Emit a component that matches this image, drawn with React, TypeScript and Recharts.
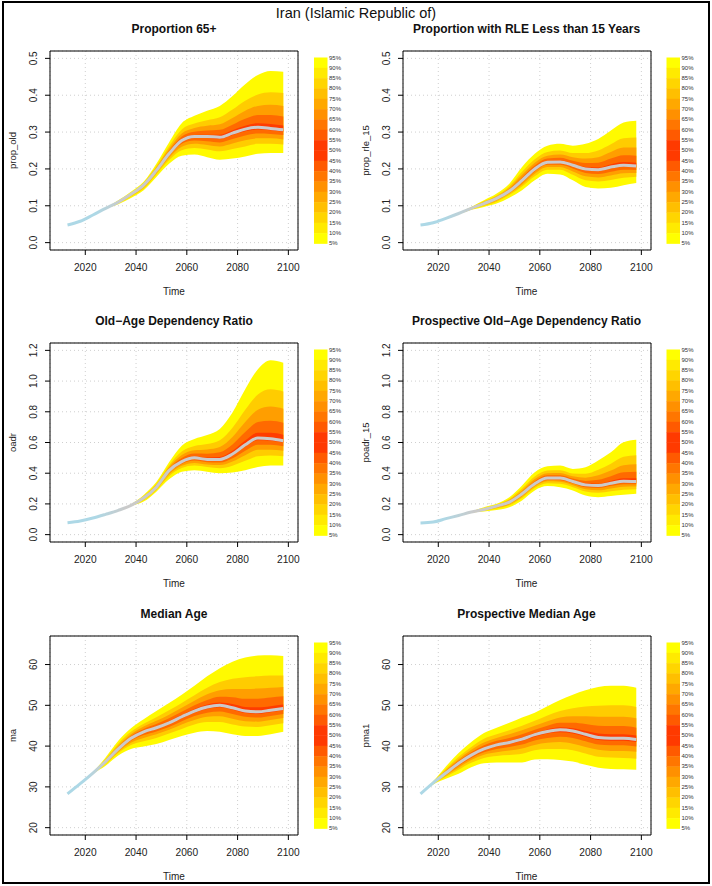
import React from 'react';
import { ComposedChart, Area, Line, XAxis, YAxis, CartesianGrid, ReferenceArea } from 'recharts';

const FONT = '"Liberation Sans", Arial, Helvetica, sans-serif';

const MAIN_TITLE = 'Iran (Islamic Republic of)';
const years = [2013, 2018, 2023, 2028, 2033, 2038, 2043, 2048, 2053, 2058, 2063, 2068, 2073, 2078, 2083, 2088, 2093, 2098];
const X_TICKS = [2020, 2040, 2060, 2080, 2100];
const X_DOMAIN: [number, number] = [2006.1, 2103.8];
const LEGEND_LABELS = ['95%', '90%', '85%', '80%', '75%', '70%', '65%', '60%', '55%', '50%', '45%', '40%', '35%', '30%', '25%', '20%', '15%', '10%', '5%'];
const LEGEND_COLORS = ['#FFFF00', '#FFEA00', '#FFD500', '#FFBF00', '#FFA800', '#FF9000', '#FF7600', '#FF5A00', '#FF3A00'];
const BAND_COLORS = ['#FFFA00', '#FFCC00', '#FF9E00', '#FF6A00', '#FF3C00'];

// Panel 1: Proportion 65+
const old_q05 = [0.048, 0.058, 0.075, 0.092, 0.104, 0.121, 0.142, 0.178, 0.214, 0.236, 0.239, 0.232, 0.225, 0.228, 0.234, 0.241, 0.243, 0.243];
const old_q15 = [0.048, 0.058, 0.075, 0.092, 0.106, 0.125, 0.147, 0.185, 0.224, 0.251, 0.257, 0.253, 0.248, 0.254, 0.261, 0.268, 0.268, 0.266];
const old_q25 = [0.048, 0.058, 0.075, 0.093, 0.108, 0.127, 0.150, 0.189, 0.230, 0.260, 0.268, 0.265, 0.261, 0.269, 0.278, 0.283, 0.283, 0.280];
const old_q35 = [0.048, 0.058, 0.075, 0.093, 0.109, 0.129, 0.153, 0.192, 0.235, 0.268, 0.277, 0.275, 0.272, 0.281, 0.291, 0.296, 0.295, 0.292];
const old_q45 = [0.048, 0.058, 0.075, 0.093, 0.110, 0.130, 0.155, 0.195, 0.239, 0.274, 0.284, 0.284, 0.281, 0.292, 0.302, 0.307, 0.305, 0.301];
const old_q50 = [0.048, 0.058, 0.075, 0.093, 0.110, 0.131, 0.156, 0.196, 0.241, 0.277, 0.288, 0.288, 0.286, 0.297, 0.308, 0.313, 0.310, 0.306];
const old_q55 = [0.048, 0.058, 0.075, 0.093, 0.110, 0.132, 0.157, 0.197, 0.243, 0.281, 0.292, 0.293, 0.293, 0.305, 0.317, 0.324, 0.322, 0.318];
const old_q65 = [0.048, 0.058, 0.075, 0.093, 0.111, 0.133, 0.158, 0.200, 0.248, 0.288, 0.301, 0.304, 0.306, 0.320, 0.336, 0.346, 0.346, 0.342];
const old_q75 = [0.048, 0.058, 0.075, 0.093, 0.112, 0.134, 0.160, 0.203, 0.254, 0.296, 0.311, 0.317, 0.321, 0.338, 0.358, 0.371, 0.374, 0.371];
const old_q85 = [0.048, 0.058, 0.075, 0.094, 0.113, 0.135, 0.162, 0.207, 0.261, 0.307, 0.323, 0.332, 0.340, 0.361, 0.385, 0.402, 0.408, 0.406];
const old_q95 = [0.048, 0.058, 0.075, 0.094, 0.115, 0.138, 0.165, 0.214, 0.272, 0.324, 0.344, 0.358, 0.371, 0.398, 0.430, 0.455, 0.466, 0.464];

// Panel 2: Proportion with RLE less than 15 years
const rle_q05 = [0.048, 0.054, 0.066, 0.077, 0.089, 0.097, 0.106, 0.122, 0.142, 0.169, 0.187, 0.185, 0.169, 0.151, 0.147, 0.149, 0.156, 0.162];
const rle_q15 = [0.048, 0.054, 0.066, 0.078, 0.090, 0.100, 0.111, 0.129, 0.152, 0.180, 0.198, 0.198, 0.184, 0.169, 0.166, 0.170, 0.176, 0.179];
const rle_q25 = [0.048, 0.054, 0.066, 0.078, 0.091, 0.102, 0.114, 0.133, 0.158, 0.187, 0.205, 0.205, 0.193, 0.180, 0.177, 0.182, 0.188, 0.189];
const rle_q35 = [0.048, 0.054, 0.066, 0.079, 0.092, 0.104, 0.117, 0.136, 0.163, 0.193, 0.211, 0.211, 0.201, 0.189, 0.186, 0.192, 0.198, 0.197];
const rle_q45 = [0.048, 0.054, 0.066, 0.079, 0.093, 0.105, 0.119, 0.139, 0.167, 0.198, 0.216, 0.216, 0.207, 0.196, 0.194, 0.201, 0.206, 0.204];
const rle_q50 = [0.048, 0.054, 0.066, 0.079, 0.093, 0.106, 0.120, 0.140, 0.169, 0.200, 0.218, 0.219, 0.210, 0.200, 0.198, 0.205, 0.210, 0.208];
const rle_q55 = [0.048, 0.054, 0.066, 0.079, 0.093, 0.107, 0.121, 0.142, 0.172, 0.203, 0.221, 0.223, 0.214, 0.205, 0.204, 0.213, 0.219, 0.217];
const rle_q65 = [0.048, 0.054, 0.066, 0.079, 0.094, 0.108, 0.123, 0.145, 0.177, 0.209, 0.228, 0.230, 0.222, 0.216, 0.217, 0.228, 0.237, 0.236];
const rle_q75 = [0.048, 0.054, 0.066, 0.080, 0.095, 0.110, 0.125, 0.148, 0.184, 0.217, 0.236, 0.239, 0.232, 0.228, 0.232, 0.246, 0.258, 0.258];
const rle_q85 = [0.048, 0.054, 0.066, 0.080, 0.096, 0.112, 0.128, 0.153, 0.192, 0.226, 0.246, 0.250, 0.243, 0.243, 0.250, 0.267, 0.283, 0.285];
const rle_q95 = [0.048, 0.054, 0.066, 0.081, 0.097, 0.115, 0.133, 0.160, 0.205, 0.241, 0.263, 0.268, 0.263, 0.268, 0.281, 0.304, 0.326, 0.331];

// Panel 3: Old-Age Dependency Ratio
const oadr_q05 = [0.078, 0.089, 0.108, 0.132, 0.158, 0.186, 0.215, 0.280, 0.360, 0.410, 0.420, 0.410, 0.400, 0.405, 0.420, 0.440, 0.450, 0.450];
const oadr_q15 = [0.078, 0.089, 0.108, 0.132, 0.158, 0.187, 0.224, 0.291, 0.381, 0.434, 0.450, 0.440, 0.433, 0.449, 0.481, 0.510, 0.515, 0.510];
const oadr_q25 = [0.078, 0.089, 0.108, 0.132, 0.158, 0.188, 0.229, 0.297, 0.394, 0.448, 0.467, 0.457, 0.453, 0.476, 0.517, 0.552, 0.553, 0.546];
const oadr_q35 = [0.078, 0.089, 0.108, 0.132, 0.158, 0.189, 0.233, 0.302, 0.404, 0.460, 0.482, 0.472, 0.469, 0.497, 0.547, 0.586, 0.585, 0.575];
const oadr_q45 = [0.078, 0.089, 0.108, 0.132, 0.158, 0.190, 0.236, 0.307, 0.413, 0.470, 0.494, 0.484, 0.483, 0.516, 0.572, 0.615, 0.612, 0.600];
const oadr_q50 = [0.078, 0.089, 0.108, 0.132, 0.158, 0.190, 0.238, 0.309, 0.417, 0.475, 0.500, 0.490, 0.490, 0.525, 0.585, 0.630, 0.625, 0.612];
const oadr_q55 = [0.078, 0.089, 0.108, 0.132, 0.158, 0.191, 0.240, 0.312, 0.421, 0.483, 0.509, 0.502, 0.505, 0.546, 0.613, 0.664, 0.664, 0.651];
const oadr_q65 = [0.078, 0.089, 0.108, 0.132, 0.158, 0.192, 0.243, 0.317, 0.429, 0.499, 0.528, 0.527, 0.536, 0.587, 0.668, 0.733, 0.742, 0.729];
const oadr_q75 = [0.078, 0.089, 0.108, 0.132, 0.158, 0.193, 0.246, 0.323, 0.439, 0.518, 0.550, 0.555, 0.571, 0.636, 0.733, 0.813, 0.834, 0.820];
const oadr_q85 = [0.078, 0.089, 0.108, 0.132, 0.158, 0.194, 0.251, 0.330, 0.451, 0.541, 0.577, 0.590, 0.615, 0.696, 0.813, 0.912, 0.946, 0.932];
const oadr_q95 = [0.078, 0.089, 0.108, 0.132, 0.158, 0.197, 0.258, 0.342, 0.471, 0.579, 0.623, 0.649, 0.688, 0.796, 0.947, 1.077, 1.135, 1.120];

// Panel 4: Prospective Old-Age Dependency Ratio
const poadr_q05 = [0.076, 0.082, 0.104, 0.125, 0.144, 0.151, 0.160, 0.179, 0.223, 0.288, 0.316, 0.309, 0.288, 0.255, 0.244, 0.251, 0.259, 0.266];
const poadr_q15 = [0.076, 0.082, 0.104, 0.125, 0.145, 0.156, 0.170, 0.191, 0.239, 0.304, 0.335, 0.331, 0.309, 0.281, 0.272, 0.282, 0.292, 0.296];
const poadr_q25 = [0.076, 0.082, 0.104, 0.125, 0.146, 0.159, 0.175, 0.198, 0.248, 0.313, 0.347, 0.344, 0.322, 0.296, 0.289, 0.301, 0.312, 0.313];
const poadr_q35 = [0.076, 0.082, 0.104, 0.125, 0.146, 0.161, 0.180, 0.204, 0.256, 0.321, 0.356, 0.354, 0.333, 0.308, 0.303, 0.316, 0.328, 0.328];
const poadr_q45 = [0.076, 0.082, 0.104, 0.125, 0.147, 0.163, 0.184, 0.209, 0.263, 0.328, 0.364, 0.363, 0.342, 0.319, 0.314, 0.329, 0.341, 0.340];
const poadr_q50 = [0.076, 0.082, 0.104, 0.125, 0.147, 0.164, 0.186, 0.212, 0.266, 0.331, 0.368, 0.368, 0.346, 0.324, 0.320, 0.335, 0.348, 0.346];
const poadr_q55 = [0.076, 0.082, 0.104, 0.125, 0.147, 0.165, 0.187, 0.214, 0.270, 0.337, 0.374, 0.374, 0.352, 0.333, 0.332, 0.350, 0.367, 0.367];
const poadr_q65 = [0.076, 0.082, 0.104, 0.125, 0.148, 0.167, 0.189, 0.219, 0.278, 0.348, 0.386, 0.387, 0.365, 0.350, 0.357, 0.381, 0.406, 0.409];
const poadr_q75 = [0.076, 0.082, 0.104, 0.125, 0.148, 0.170, 0.192, 0.225, 0.288, 0.362, 0.400, 0.402, 0.380, 0.371, 0.386, 0.417, 0.452, 0.458];
const poadr_q85 = [0.076, 0.082, 0.104, 0.125, 0.149, 0.173, 0.195, 0.232, 0.300, 0.378, 0.417, 0.420, 0.398, 0.396, 0.422, 0.462, 0.507, 0.517];
const poadr_q95 = [0.076, 0.082, 0.104, 0.125, 0.150, 0.179, 0.201, 0.244, 0.320, 0.406, 0.445, 0.450, 0.428, 0.439, 0.482, 0.536, 0.601, 0.618];

// Panel 5: Median Age
const ma_q05 = [28.3, 30.8, 33.2, 35.2, 37.7, 39.3, 39.9, 40.5, 41.5, 42.5, 43.3, 43.7, 43.5, 42.9, 42.5, 42.5, 42.9, 43.5];
const ma_q15 = [28.3, 30.8, 33.3, 35.6, 38.3, 40.3, 41.2, 42.0, 43.1, 44.2, 45.3, 45.9, 45.9, 45.3, 44.8, 44.7, 45.1, 45.6];
const ma_q25 = [28.3, 30.8, 33.3, 35.8, 38.6, 40.8, 42.0, 42.9, 44.0, 45.3, 46.4, 47.2, 47.3, 46.7, 46.1, 46.0, 46.4, 46.9];
const ma_q35 = [28.3, 30.8, 33.35, 36.0, 38.9, 41.3, 42.7, 43.6, 44.7, 46.1, 47.4, 48.2, 48.5, 47.9, 47.2, 47.0, 47.4, 47.9];
const ma_q45 = [28.3, 30.8, 33.4, 36.1, 39.2, 41.7, 43.2, 44.2, 45.4, 46.8, 48.2, 49.1, 49.5, 48.9, 48.1, 47.9, 48.3, 48.8];
const ma_q50 = [28.3, 30.8, 33.4, 36.2, 39.3, 41.9, 43.5, 44.5, 45.7, 47.2, 48.6, 49.6, 50.0, 49.4, 48.6, 48.4, 48.8, 49.2];
const ma_q55 = [28.3, 30.8, 33.4, 36.3, 39.5, 42.1, 43.7, 44.8, 46.1, 47.6, 49.1, 50.2, 50.7, 50.3, 49.6, 49.5, 49.8, 50.2];
const ma_q65 = [28.3, 30.8, 33.45, 36.4, 39.8, 42.5, 44.2, 45.4, 46.8, 48.4, 50.0, 51.3, 52.1, 52.0, 51.6, 51.6, 51.9, 52.2];
const ma_q75 = [28.3, 30.8, 33.5, 36.6, 40.1, 42.9, 44.8, 46.2, 47.7, 49.4, 51.1, 52.7, 53.7, 54.0, 54.0, 54.1, 54.3, 54.5];
const ma_q85 = [28.3, 30.8, 33.5, 36.8, 40.6, 43.5, 45.5, 47.1, 48.8, 50.6, 52.5, 54.3, 55.7, 56.5, 56.9, 57.1, 57.3, 57.3];
const ma_q95 = [28.3, 30.8, 33.6, 37.2, 41.3, 44.4, 46.6, 48.6, 50.6, 52.6, 54.8, 57.1, 59.1, 60.7, 61.7, 62.2, 62.3, 62.1];

// Panel 6: Prospective Median Age
const pma_q05 = [28.3, 30.6, 32.0, 33.2, 34.8, 35.8, 36.0, 36.0, 36.0, 36.7, 36.8, 36.6, 36.2, 35.4, 34.7, 34.4, 34.3, 34.2];
const pma_q15 = [28.3, 30.7, 32.5, 34.2, 35.9, 37.1, 37.6, 37.8, 38.1, 39.0, 39.3, 39.3, 39.0, 38.2, 37.4, 37.2, 37.1, 36.9];
const pma_q25 = [28.3, 30.8, 32.8, 34.7, 36.6, 37.9, 38.5, 38.9, 39.4, 40.3, 40.8, 41.0, 40.6, 39.8, 39.1, 38.8, 38.8, 38.6];
const pma_q35 = [28.3, 30.9, 33.1, 35.2, 37.1, 38.5, 39.3, 39.8, 40.4, 41.4, 42.0, 42.3, 42.0, 41.2, 40.4, 40.2, 40.2, 39.9];
const pma_q45 = [28.3, 31.0, 33.3, 35.6, 37.6, 39.0, 40.0, 40.5, 41.3, 42.3, 43.1, 43.4, 43.1, 42.3, 41.5, 41.3, 41.3, 41.0];
const pma_q50 = [28.3, 31.0, 33.4, 35.8, 37.8, 39.3, 40.3, 40.9, 41.7, 42.8, 43.6, 44.0, 43.7, 42.9, 42.1, 41.9, 41.9, 41.6];
const pma_q55 = [28.3, 31.0, 33.5, 36.0, 38.0, 39.6, 40.6, 41.3, 42.1, 43.2, 44.1, 44.6, 44.4, 43.7, 43.1, 42.9, 42.9, 42.6];
const pma_q65 = [28.3, 31.1, 33.8, 36.4, 38.5, 40.2, 41.3, 42.0, 42.9, 44.0, 45.0, 45.7, 45.7, 45.4, 45.0, 44.9, 44.9, 44.5];
const pma_q75 = [28.3, 31.2, 34.1, 36.8, 39.1, 40.9, 42.0, 42.9, 43.9, 45.0, 46.1, 47.0, 47.3, 47.3, 47.2, 47.2, 47.2, 46.8];
const pma_q85 = [28.3, 31.3, 34.4, 37.4, 39.8, 41.8, 42.9, 43.9, 45.0, 46.2, 47.5, 48.6, 49.3, 49.7, 49.9, 50.0, 50.0, 49.6];
const pma_q95 = [28.3, 31.4, 35.0, 38.3, 41.0, 43.2, 44.5, 45.7, 47.0, 48.2, 49.8, 51.3, 52.6, 53.7, 54.5, 54.8, 54.8, 54.3];

const PROP_TICKS = [0, 0.1, 0.2, 0.3, 0.4, 0.5];
const RATIO_TICKS = [0, 0.2, 0.4, 0.6, 0.8, 1.0, 1.2];
const AGE_TICKS = [20, 30, 40, 50, 60];

// q = [q05, q15, q25, q35, q45, q50, q55, q65, q75, q85, q95]
function buildRows(q: number[][]) {
  return years.map((year, i) => ({
    year,
    b1: [q[0][i], q[10][i]],
    b2: [q[1][i], q[9][i]],
    b3: [q[2][i], q[8][i]],
    b4: [q[3][i], q[7][i]],
    b5: [q[4][i], q[6][i]],
    med: q[5][i],
  }));
}

const fmt1 = (v: number) => v.toFixed(1);
const fmt0 = (v: number) => String(Math.round(v));

const ROW_TOPS = [0, 292, 585];
const COL_LEFTS = [0, 352.5];

const panels = [
  { id: 'p1', title: 'Proportion 65+', ylab: 'prop_old', col: 0, row: 0, yDomain: [-0.02, 0.52], yTicks: PROP_TICKS, fmt: fmt1, q: [old_q05, old_q15, old_q25, old_q35, old_q45, old_q50, old_q55, old_q65, old_q75, old_q85, old_q95], gs: [0.13, 0.25] },
  { id: 'p2', title: 'Proportion with RLE Less than 15 Years', ylab: 'prop_rle_15', col: 1, row: 0, yDomain: [-0.02, 0.52], yTicks: PROP_TICKS, fmt: fmt1, q: [rle_q05, rle_q15, rle_q25, rle_q35, rle_q45, rle_q50, rle_q55, rle_q65, rle_q75, rle_q85, rle_q95], gs: [0.1, 0.25] },
  { id: 'p3', title: 'Old\u2212Age Dependency Ratio', ylab: 'oadr', col: 0, row: 1, yDomain: [-0.048, 1.248], yTicks: RATIO_TICKS, fmt: fmt1, q: [oadr_q05, oadr_q15, oadr_q25, oadr_q35, oadr_q45, oadr_q50, oadr_q55, oadr_q65, oadr_q75, oadr_q85, oadr_q95], gs: [0.13, 0.27] },
  { id: 'p4', title: 'Prospective Old\u2212Age Dependency Ratio', ylab: 'poadr_15', col: 1, row: 1, yDomain: [-0.048, 1.248], yTicks: RATIO_TICKS, fmt: fmt1, q: [poadr_q05, poadr_q15, poadr_q25, poadr_q35, poadr_q45, poadr_q50, poadr_q55, poadr_q65, poadr_q75, poadr_q85, poadr_q95], gs: [0.1, 0.25] },
  { id: 'p5', title: 'Median Age', ylab: 'ma', col: 0, row: 2, yDomain: [18.2, 67.0], yTicks: AGE_TICKS, fmt: fmt0, q: [ma_q05, ma_q15, ma_q25, ma_q35, ma_q45, ma_q50, ma_q55, ma_q65, ma_q75, ma_q85, ma_q95], gs: [0.08, 0.18] },
  { id: 'p6', title: 'Prospective Median Age', ylab: 'pma1', col: 1, row: 2, yDomain: [18.2, 67.0], yTicks: AGE_TICKS, fmt: fmt0, q: [pma_q05, pma_q15, pma_q25, pma_q35, pma_q45, pma_q50, pma_q55, pma_q65, pma_q75, pma_q85, pma_q95], gs: [0.05, 0.14] },
];

const BAND_KEYS = ['b1', 'b2', 'b3', 'b4', 'b5'];

function Panel({ p }: { p: any }) {
  const data = buildRows(p.q);
  const gid = 'grad_' + p.id;
  const left = COL_LEFTS[p.col];
  const top = ROW_TOPS[p.row];
  const renderYTick = (props: any) => {
    const { x, y, payload } = props;
    return (
      <text x={x} y={y} transform={`rotate(-90, ${x}, ${y})`} textAnchor="middle" fontSize={10} fill="#222" fontFamily={FONT}>
        {p.fmt(payload.value)}
      </text>
    );
  };
  return (
    <div style={{ position: 'absolute', left, top, width: 356, height: 292 }}>
      <ComposedChart width={356} height={292} data={data} margin={{ top: 51, right: 58, left: 20, bottom: 12 }}>
        <defs>
          <linearGradient id={gid} x1="0" y1="0" x2="1" y2="0">
            <stop offset="0" stopColor="#ADD8E6" />
            <stop offset={p.gs[0]} stopColor="#ADD8E6" />
            <stop offset={p.gs[1]} stopColor="#CACACA" />
            <stop offset="1" stopColor="#CACACA" />
          </linearGradient>
        </defs>
        <CartesianGrid stroke="#CFCFCF" strokeDasharray="1 3" />
        <XAxis
          type="number"
          dataKey="year"
          domain={X_DOMAIN}
          ticks={X_TICKS}
          allowDataOverflow
          interval={0}
          axisLine={false}
          tickSize={5}
          tickMargin={9}
          height={30}
          tickLine={{ stroke: '#000' }}
          tick={{ fontSize: 10.2, fill: '#222', fontFamily: FONT }}
        />
        <YAxis
          type="number"
          domain={p.yDomain}
          ticks={p.yTicks}
          allowDataOverflow
          interval={0}
          axisLine={false}
          tickSize={5}
          tickMargin={8}
          width={30}
          tickLine={{ stroke: '#000' }}
          tick={renderYTick}
        />
        {BAND_KEYS.map((k, i) => (
          <Area key={k} type="monotone" dataKey={k} fill={BAND_COLORS[i]} fillOpacity={1} stroke="none" isAnimationActive={false} />
        ))}
        <Line type="monotone" dataKey="med" stroke={`url(#${gid})`} strokeWidth={3} dot={false} activeDot={false} isAnimationActive={false} />
        <ReferenceArea x1={X_DOMAIN[0]} x2={X_DOMAIN[1]} y1={p.yDomain[0]} y2={p.yDomain[1]} fill="none" stroke="#000" strokeWidth={1} ifOverflow="visible" />
      </ComposedChart>
    </div>
  );
}

function PanelTexts({ p }: { p: any }) {
  const ox = COL_LEFTS[p.col];
  const oy = ROW_TOPS[p.row];
  const barX = ox + 314;
  const barTop = oy + 57.5;
  const blockH = 10.33;
  return (
    <g fontFamily={FONT}>
      <text x={ox + 174} y={oy + 28.5} textAnchor="middle" dominantBaseline="central" fontSize={12} fontWeight="bold" fill="#111">{p.title}</text>
      <text x={ox + 174} y={oy + 291} textAnchor="middle" dominantBaseline="central" fontSize={10} fill="#222">Time</text>
      <text x={ox + 12.5} y={oy + 150.5} transform={`rotate(-90, ${ox + 12.5}, ${oy + 150.5})`} textAnchor="middle" dominantBaseline="central" fontSize={9.5} fill="#222">{p.ylab}</text>
      {LEGEND_LABELS.slice(0, 18).map((_, j) => (
        <rect key={'r' + j} x={barX} y={barTop + j * blockH} width={13.5} height={blockH + 0.4} fill={j < 9 ? LEGEND_COLORS[j] : LEGEND_COLORS[17 - j]} />
      ))}
      {LEGEND_LABELS.map((l, k) => (
        <text key={'l' + k} x={barX + 15} y={barTop + k * blockH} dominantBaseline="central" fontSize={6} fill="#333">{l}</text>
      ))}
    </g>
  );
}

export default function App() {
  return (
    <div style={{ position: 'absolute', left: 0, top: 0, width: 712, height: 886, background: '#fff', overflow: 'hidden' }}>
      {panels.map((p) => (
        <Panel key={p.id} p={p} />
      ))}
      <svg width={712} height={886} style={{ position: 'absolute', left: 0, top: 0, pointerEvents: 'none' }}>
        <text x={356} y={13} textAnchor="middle" dominantBaseline="central" fontSize={14.5} fill="#111" fontFamily={FONT}>{MAIN_TITLE}</text>
        {panels.map((p) => (
          <PanelTexts key={p.id} p={p} />
        ))}
      </svg>
      <div style={{ position: 'absolute', left: 2, top: 1, width: 708, height: 883, border: '2px solid #000', boxSizing: 'border-box' }} />
    </div>
  );
}
